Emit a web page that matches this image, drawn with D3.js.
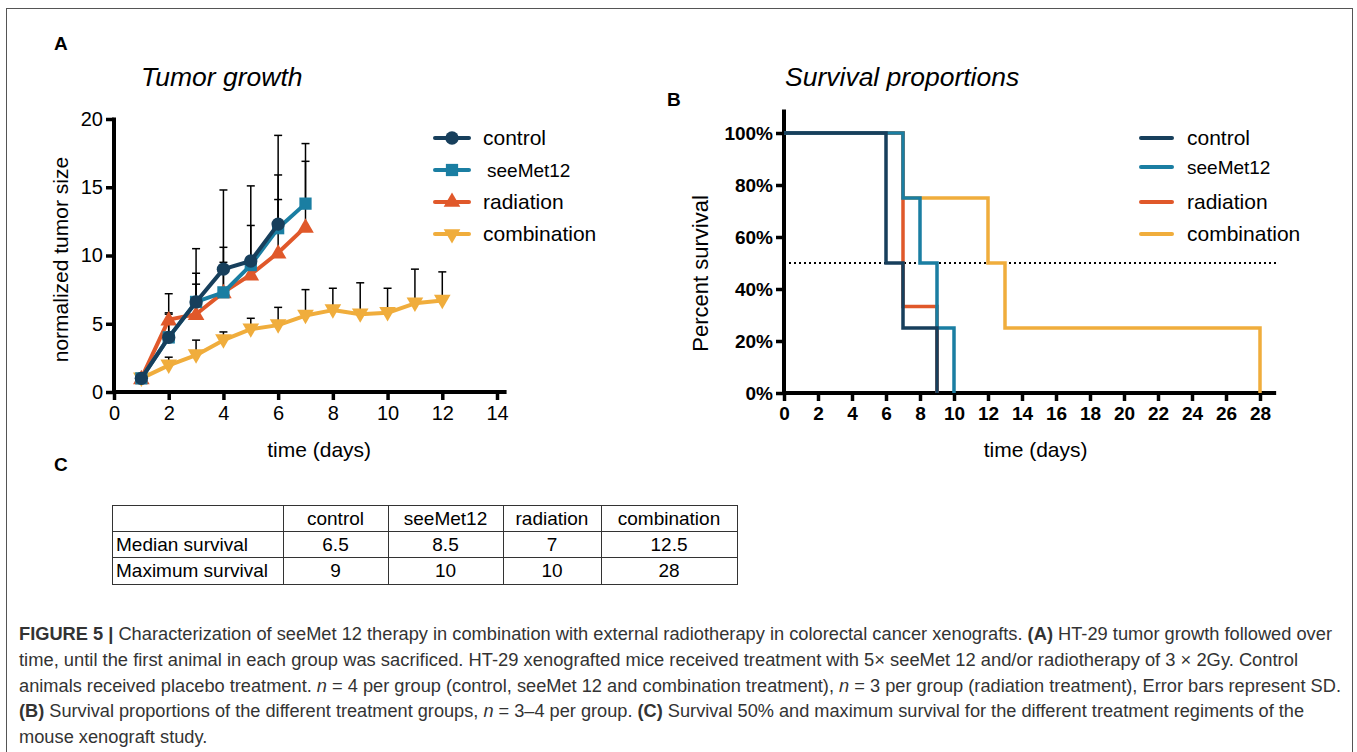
<!DOCTYPE html>
<html>
<head>
<meta charset="utf-8">
<script src="https://cdn.jsdelivr.net/npm/d3@7"></script>
<style>
	body { margin: 0; background: #fff; }
	svg { display: block; font-family: "Liberation Sans", Arial, sans-serif; }
</style>
</head>
<body>
<script>
// ---- data ----
var groups = ["control", "seeMet12", "radiation", "combination"];
var colors = ["#173f5c", "#1a7ea2", "#e0582a", "#f0ad3c"];

// tumor growth (normalized size), day index starts at 1
var days_control = [1, 2, 3, 4, 5, 6];
var mean_control = [1, 4.0, 6.6, 9.0, 9.6, 12.3];
var sd_control = [0, 3.2, 3.9, 5.8, 5.5, 6.5];

var days_seemet = [1, 2, 3, 4, 5, 6, 7];
var mean_seemet = [1, 4.0, 6.6, 7.3, 9.3, 12.0, 13.8];
var sd_seemet = [0, 1.7, 2.1, 3.3, 2.9, 3.9, 4.4];

var days_radiation = [1, 2, 3, 4, 5, 6, 7];
var mean_radiation = [1, 5.3, 5.7, 7.3, 8.6, 10.2, 12.1];
var sd_radiation = [0, 0.5, 2.2, 2.2, 0.9, 3.9, 4.8];

var days_combination = [1, 2, 3, 4, 5, 6, 7, 8, 9, 10, 11, 12];
var mean_combination = [1, 1.95, 2.7, 3.8, 4.6, 4.9, 5.6, 6.0, 5.7, 5.8, 6.5, 6.7];
var sd_combination = [0, 0.6, 1.1, 0.6, 0.8, 1.3, 1.9, 1.6, 2.3, 1.8, 2.5, 2.1];

// survival (time, percent) step points
var surv_control = [[0, 100], [6, 50], [7, 25], [9, 0]];
var surv_seemet = [[0, 100], [7, 75], [8, 50], [9, 25], [10, 0]];
var surv_radiation = [[0, 100], [7, 33.3], [9, 0]];
var surv_combination = [[0, 100], [7, 75], [12, 50], [13, 25], [28, 0]];

var ticksA_x = [0, 2, 4, 6, 8, 10, 12, 14];
var ticksA_y = [0, 5, 10, 15, 20];
var ticksB_x = d3.range(0, 29, 2);
var ticksB_y = [0, 20, 40, 60, 80, 100];

// table C
var table_head = ["", "control", "seeMet12", "radiation", "combination"];
var table_median = ["Median survival", "6.5", "8.5", "7", "12.5"];
var table_max = ["Maximum survival", "9", "10", "10", "28"];

var caption = [
	[["b", "FIGURE 5 | "], ["", "Characterization of seeMet 12 therapy in combination with external radiotherapy in colorectal cancer xenografts. "], ["b", "(A)"], ["", " HT-29 tumor growth followed over"]],
	[["", "time, until the first animal in each group was sacrificed. HT-29 xenografted mice received treatment with 5\u00d7 seeMet 12 and/or radiotherapy of 3 \u00d7 2Gy. Control"]],
	[["", "animals received placebo treatment. "], ["i", "n"], ["", " = 4 per group (control, seeMet 12 and combination treatment), "], ["i", "n"], ["", " = 3 per group (radiation treatment), Error bars represent SD."]],
	[["b", "(B)"], ["", " Survival proportions of the different treatment groups, "], ["i", "n"], ["", " = 3\u20134 per group. "], ["b", "(C)"], ["", " Survival 50% and maximum survival for the different treatment regiments of the"]],
	[["", "mouse xenograft study."]]
];
var caption_width = [1313, 1279, 1322, 1285, 0];

// ---- page ----
var W = 1357, H = 752;
var svg = d3.select("body").append("svg").attr("width", W).attr("height", H);

svg.append("rect")
	.attr("x", 6.5).attr("y", 8.5)
	.attr("width", 1346).attr("height", 800)
	.attr("fill", "none").attr("stroke", "#555").attr("stroke-width", 1);

function panel_label(txt, x, y) {
	svg.append("text").attr("x", x).attr("y", y)
		.attr("font-weight", "bold").attr("font-size", 19)
		.text(txt);
}
panel_label("A", 54, 50);
panel_label("B", 667, 106);
panel_label("C", 54, 471);

function style_axis(g, bold, size) {
	g.selectAll(".domain").remove();
	g.selectAll(".tick line").attr("stroke", "#000").attr("stroke-width", 3.5);
	g.selectAll(".tick text")
		.attr("font-family", "Liberation Sans, Arial, sans-serif")
		.attr("font-size", size)
		.attr("font-weight", bold ? "bold" : "normal")
		.attr("fill", "#000");
}

/* panel A */
var xA = d3.scaleLinear().domain([0, 14]).range([114, 497]);
var yA = d3.scaleLinear().domain([0, 20]).range([392, 119]);

svg.append("text").attr("x", 141).attr("y", 86)
	.attr("font-style", "italic").attr("font-size", 26.5).text("Tumor growth");

var gAx = svg.append("g").attr("transform", "translate(0," + yA(0) + ")")
	.call(d3.axisBottom(xA).tickValues(ticksA_x).tickSize(8).tickPadding(6));
style_axis(gAx, false, 20);
var gAy = svg.append("g").attr("transform", "translate(" + xA(0) + ",0)")
	.call(d3.axisLeft(yA).tickValues(ticksA_y).tickSize(8).tickPadding(3));
style_axis(gAy, false, 20);

svg.append("line").attr("x1", xA(0)).attr("x2", xA(14.35))
	.attr("y1", yA(0)).attr("y2", yA(0))
	.attr("stroke", "#000").attr("stroke-width", 4);
svg.append("line").attr("x1", xA(0)).attr("x2", xA(0))
	.attr("y1", yA(0) + 2).attr("y2", yA(20) - 1.5)
	.attr("stroke", "#000").attr("stroke-width", 4);

svg.append("text").attr("x", xA(7.5)).attr("y", 457)
	.attr("text-anchor", "middle").attr("font-size", 21).text("time (days)");
svg.append("text")
	.attr("transform", "translate(68," + yA(9.7) + ") rotate(-90)")
	.attr("text-anchor", "middle").attr("font-size", 21).text("normalized tumor size");

var seriesA = [
	{ days: days_combination, mean: mean_combination, sd: sd_combination, color: colors[3], sym: d3.symbolTriangle, rot: 180 },
	{ days: days_radiation, mean: mean_radiation, sd: sd_radiation, color: colors[2], sym: d3.symbolTriangle, rot: 0 },
	{ days: days_seemet, mean: mean_seemet, sd: sd_seemet, color: colors[1], sym: d3.symbolSquare, rot: 0 },
	{ days: days_control, mean: mean_control, sd: sd_control, color: colors[0], sym: d3.symbolCircle, rot: 0 }
];
var sym_size = { circle: 140, square: 150, tri: 120 };
function sym_area(s) {
	if (s == d3.symbolCircle) return sym_size.circle;
	if (s == d3.symbolSquare) return sym_size.square;
	return sym_size.tri;
}

// error bars first (upper SD only)
seriesA.forEach(function(s) {
	s.days.forEach(function(d, i) {
		if (!s.sd[i]) return;
		var top = yA(s.mean[i] + s.sd[i]);
		svg.append("line").attr("x1", xA(d)).attr("x2", xA(d))
			.attr("y1", yA(s.mean[i])).attr("y2", top)
			.attr("stroke", "#000").attr("stroke-width", 1.5);
		svg.append("line").attr("x1", xA(d) - 4).attr("x2", xA(d) + 4)
			.attr("y1", top).attr("y2", top)
			.attr("stroke", "#000").attr("stroke-width", 1.5);
	});
});

var lineA = d3.line().x(function(d) { return xA(d[0]); }).y(function(d) { return yA(d[1]); });
seriesA.forEach(function(s) {
	var pts = s.days.map(function(d, i) { return [d, s.mean[i]]; });
	svg.append("path").attr("d", lineA(pts))
		.attr("fill", "none").attr("stroke", s.color).attr("stroke-width", 4)
		.attr("stroke-linejoin", "round");
	svg.selectAll(null).data(pts).enter().append("path")
		.attr("d", d3.symbol().type(s.sym).size(sym_area(s.sym)))
		.attr("transform", function(d) {
			return "translate(" + xA(d[0]) + "," + (yA(d[1]) + (s.sym == d3.symbolTriangle ? (s.rot ? -1 : 1) : 0)) + ") rotate(" + s.rot + ")";
		})
		.attr("fill", s.color);
});

// legend A
var legA_y = [138, 170, 202, 234];
var legA_sym = [d3.symbolCircle, d3.symbolSquare, d3.symbolTriangle, d3.symbolTriangle];
groups.forEach(function(g, i) {
	svg.append("line").attr("x1", 435).attr("x2", 469)
		.attr("y1", legA_y[i]).attr("y2", legA_y[i])
		.attr("stroke", colors[i]).attr("stroke-width", 4).attr("stroke-linecap", "round");
	svg.append("path")
		.attr("d", d3.symbol().type(legA_sym[i]).size(sym_area(legA_sym[i])))
		.attr("transform", "translate(452," + legA_y[i] + ") rotate(" + (i == 3 ? 180 : 0) + ")")
		.attr("fill", colors[i]);
	svg.append("text").attr("x", i == 1 ? 487 : 483).attr("y", legA_y[i] + 7)
		.attr("font-size", i == 1 ? 19 : 21).text(g);
});

/* panel B */
var xB = d3.scaleLinear().domain([0, 28]).range([784, 1260]);
var yB = d3.scaleLinear().domain([0, 100]).range([393, 133]);

svg.append("text").attr("x", 785).attr("y", 86)
	.attr("font-style", "italic").attr("font-size", 26.5).text("Survival proportions");

var gBx = svg.append("g").attr("transform", "translate(0," + yB(0) + ")")
	.call(d3.axisBottom(xB).tickValues(ticksB_x).tickSize(8).tickPadding(6));
style_axis(gBx, true, 19);
var gBy = svg.append("g").attr("transform", "translate(" + xB(0) + ",0)")
	.call(d3.axisLeft(yB).tickValues(ticksB_y).tickSize(8).tickPadding(3)
		.tickFormat(function(d) { return d + "%"; }));
style_axis(gBy, true, 19);

svg.append("line").attr("x1", xB(0)).attr("x2", xB(28.95))
	.attr("y1", yB(0)).attr("y2", yB(0))
	.attr("stroke", "#000").attr("stroke-width", 4);
svg.append("line").attr("x1", xB(0)).attr("x2", xB(0))
	.attr("y1", yB(0) + 2).attr("y2", yB(109))
	.attr("stroke", "#000").attr("stroke-width", 4);

svg.append("line").attr("x1", xB(0)).attr("x2", xB(29))
	.attr("y1", yB(50)).attr("y2", yB(50))
	.attr("stroke", "#000").attr("stroke-width", 2).attr("stroke-dasharray", "2,3");

var lineB = d3.line().curve(d3.curveStepAfter)
	.x(function(d) { return xB(d[0]); }).y(function(d) { return yB(d[1]); });
var survB = [surv_combination, surv_radiation, surv_seemet, surv_control];
var survB_col = [colors[3], colors[2], colors[1], colors[0]];
survB.forEach(function(s, i) {
	svg.append("path").attr("d", lineB(s))
		.attr("fill", "none").attr("stroke", survB_col[i]).attr("stroke-width", 3.5);
});

svg.append("text").attr("x", xB(14.8)).attr("y", 457)
	.attr("text-anchor", "middle").attr("font-size", 21).text("time (days)");
svg.append("text")
	.attr("transform", "translate(708," + yB(46) + ") rotate(-90)")
	.attr("text-anchor", "middle").attr("font-size", 22).text("Percent survival");

var legB_y = [138, 167, 202, 234];
groups.forEach(function(g, i) {
	svg.append("line").attr("x1", 1141).attr("x2", 1172)
		.attr("y1", legB_y[i]).attr("y2", legB_y[i])
		.attr("stroke", colors[i]).attr("stroke-width", 4).attr("stroke-linecap", "round");
	svg.append("text").attr("x", 1187).attr("y", legB_y[i] + 7)
		.attr("font-size", i == 1 ? 19 : 21).text(g);
});

/* panel C table */
var col_x = [112, 283, 388, 503, 601, 737];
var row_y = [505, 531, 557, 584];
var tab = svg.append("g");
[table_head, table_median, table_max].forEach(function(row, r) {
	row.forEach(function(cell, c) {
		tab.append("rect").attr("x", col_x[c] + 0.5).attr("y", row_y[r] + 0.5)
			.attr("width", col_x[c + 1] - col_x[c]).attr("height", row_y[r + 1] - row_y[r])
			.attr("fill", "none").attr("stroke", "#333").attr("stroke-width", 1);
		if (!cell) return;
		tab.append("text")
			.attr("x", c == 0 ? col_x[0] + 4 : (col_x[c] + col_x[c + 1]) / 2)
			.attr("y", row_y[r] + 20)
			.attr("text-anchor", c == 0 ? "start" : "middle")
			.attr("font-size", 19)
			.text(cell);
	});
});

/* caption */
var cap_y = [640, 666, 692, 717, 743];
var cap_nodes = [], ratios = [];
caption.forEach(function(parts, i) {
	var t = svg.append("text").attr("x", 19).attr("y", cap_y[i])
		.attr("font-family", "Liberation Sans, Arial, sans-serif")
		.attr("font-size", 17.5).attr("fill", "#333");
	parts.forEach(function(p) {
		var s = t.append("tspan").text(p[1]);
		if (p[0] == "b") s.attr("font-weight", "bold");
		if (p[0] == "i") s.attr("font-style", "italic");
	});
	var natural = t.node().getComputedTextLength();
	if (caption_width[i]) ratios.push(caption_width[i] / natural);
	cap_nodes.push([t, natural]);
});
var avg_ratio = d3.mean(ratios);
cap_nodes.forEach(function(n, i) {
	var w = caption_width[i] ? caption_width[i] : n[1] * avg_ratio;
	n[0].attr("textLength", w).attr("lengthAdjust", "spacingAndGlyphs");
});
</script>
</body>
</html>
